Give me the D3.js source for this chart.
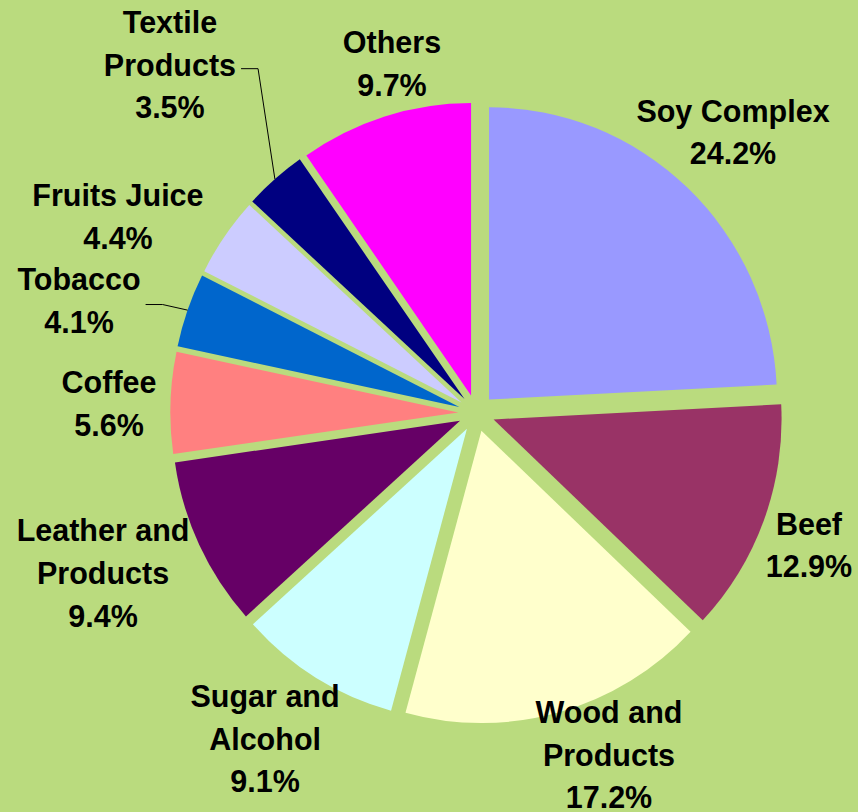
<!DOCTYPE html>
<html>
<head>
<meta charset="utf-8">
<script src="https://cdn.jsdelivr.net/npm/d3@7"></script>
<style>
  html, body { margin: 0; padding: 0; background: #BADB7E; }
  svg { display: block; }
  text { font-family: "Liberation Sans", Arial, sans-serif; font-weight: bold; font-size: 30.5px; fill: #000; }
</style>
</head>
<body>
<svg id="chart" width="858" height="812"></svg>
<script>
// ---- data ----
const categories = ["Soy Complex", "Beef", "Wood and Products", "Sugar and Alcohol",
  "Leather and Products", "Coffee", "Tobacco", "Fruits Juice", "Textile Products", "Others"];
const values = [24.2, 12.9, 17.2, 9.1, 9.4, 5.6, 4.1, 4.4, 3.5, 9.7];
const labelLines = [["Soy Complex"], ["Beef"], ["Wood and", "Products"], ["Sugar and", "Alcohol"],
  ["Leather and", "Products"], ["Coffee"], ["Tobacco"], ["Fruits Juice"], ["Textile", "Products"], ["Others"]];
const colors = ["#9999FF", "#993366", "#FFFFCC", "#CCFFFF", "#660066",
  "#FF8080", "#0066CC", "#CCCCFF", "#000080", "#FF00FF"];
const hasLeader = [false, false, false, false, false, false, true, false, true, false];

// ---- layout ----
const W = 858, H = 812;
const cx = 476.5, cy = 413, R = 288, yScale = 1.015, explode = 18.2;
const lineH = 42.6;
// label placement relative to slice bisector: angular nudge (deg) and distance from pie center
const labelNudge = [-1.13, 1.42, -5.56, 1.35, 1.88, -0.41, -3.53, -5.9, -0.17, 3.85];
const labelDist = [380.5, 357.7, 366.3, 388.2, 406.3, 367.6, 413.1, 408.8, 464, 359.6];

const svg = d3.select("#chart");
svg.append("rect").attr("width", W).attr("height", H).attr("fill", "#BADB7E");

const pie = d3.pie().sort(null).value(d => d)(values);
const arc = d3.arc().innerRadius(0).outerRadius(R);

const g = svg.append("g").attr("transform", `translate(${cx},${cy}) scale(1,${yScale})`);

pie.forEach((p, i) => {
  const mid = (p.startAngle + p.endAngle) / 2;
  const ox = explode * Math.sin(mid), oy = -explode * Math.cos(mid);
  g.append("path")
    .attr("d", arc(p))
    .attr("transform", `translate(${ox},${oy})`)
    .attr("fill", colors[i]);
});

const lg = svg.append("g");
pie.forEach((p, i) => {
  const mid = (p.startAngle + p.endAngle) / 2;
  const a = mid + labelNudge[i] * Math.PI / 180;
  const lx = cx + labelDist[i] * Math.sin(a);
  const ly = cy - labelDist[i] * Math.cos(a);
  const lines = labelLines[i].concat([values[i].toFixed(1) + "%"]);
  const n = lines.length;
  const t = lg.append("text").attr("text-anchor", "middle");
  lines.forEach((s, k) => {
    t.append("tspan")
      .attr("x", lx)
      .attr("y", ly + (k - (n - 1) / 2) * lineH + 11)
      .text(s);
  });
  if (hasLeader[i]) {
    const bb = t.node().getBBox();
    const x0 = bb.x + bb.width + 5;
    const y0 = ly + 4;
    const ox = explode * Math.sin(mid), oy = -explode * Math.cos(mid);
    const ex = cx + ox + R * Math.sin(mid);
    const ey = cy + yScale * (oy - R * Math.cos(mid));
    lg.append("path")
      .attr("d", d3.line()([[x0, y0], [x0 + 17, y0], [ex, ey]]))
      .attr("fill", "none").attr("stroke", "#000").attr("stroke-width", 1);
  }
});
</script>
</body>
</html>
